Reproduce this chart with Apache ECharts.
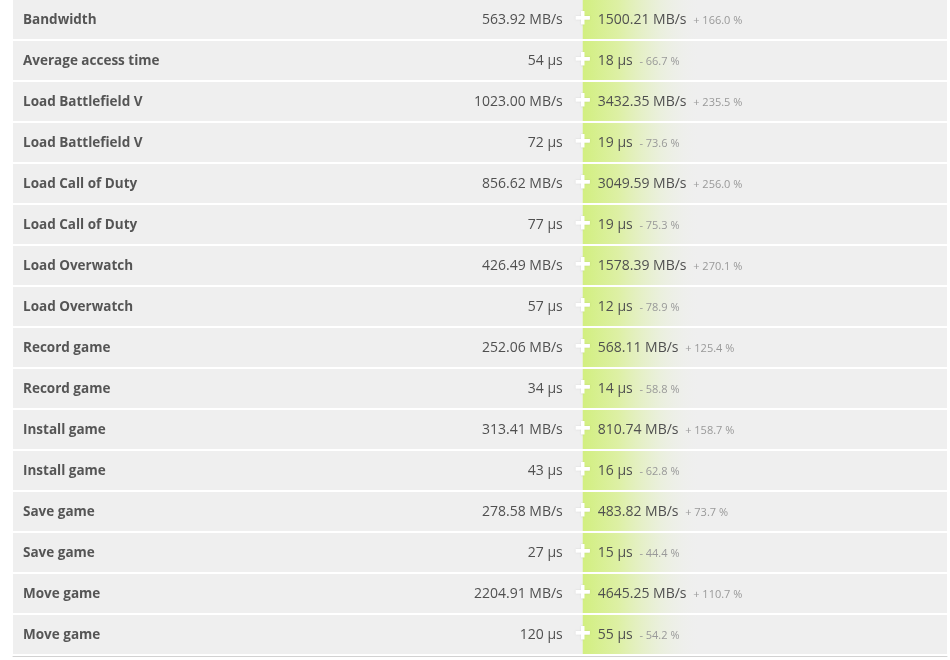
<!DOCTYPE html>
<html>
<head>
<meta charset="utf-8">
<script src="https://cdn.jsdelivr.net/npm/echarts@6/dist/echarts.min.js"></script>
<style>
html,body{margin:0;padding:0;background:#fff;}
#chart{width:950px;height:660px;}
</style>
</head>
<body>
<div id="chart"></div>
<script>
// ---- data ----
const categories = [
  'Bandwidth','Average access time','Load Battlefield V','Load Battlefield V',
  'Load Call of Duty','Load Call of Duty','Load Overwatch','Load Overwatch',
  'Record game','Record game','Install game','Install game',
  'Save game','Save game','Move game','Move game'
];
const units = ['MB/s','µs','MB/s','µs','MB/s','µs','MB/s','µs','MB/s','µs','MB/s','µs','MB/s','µs','MB/s','µs'];
const oldValues = ['563.92','54','1023.00','72','856.62','77','426.49','57','252.06','34','313.41','43','278.58','27','2204.91','120'];
const newValues = ['1500.21','18','3432.35','19','3049.59','19','1578.39','12','568.11','14','810.74','16','483.82','15','4645.25','55'];
const changes = ['+ 166.0 %','- 66.7 %','+ 235.5 %','- 73.6 %','+ 256.0 %','- 75.3 %','+ 270.1 %','- 78.9 %','+ 125.4 %','- 58.8 %','+ 158.7 %','- 62.8 %','+ 73.7 %','- 44.4 %','+ 110.7 %','- 54.2 %'];

// ---- layout / style constants ----
const SPLIT = 0.61;      // fraction of grid width where the new-value column starts
const GRAD_W = 118;      // width of the green fade
const FONT = '"Open Sans", "Noto Sans", sans-serif';

const chart = echarts.init(document.getElementById('chart'));
const rows = categories.map((c, i) => [i, c, oldValues[i], newValues[i], units[i], changes[i]]);

chart.setOption({
  backgroundColor: '#ffffff',
  animation: false,
  grid: { left: 13, right: 3, top: 0, height: 656 },
  xAxis: {
    type: 'value', min: 0, max: 1,
    axisLine: { show: true, onZero: false, lineStyle: { color: '#d2d2d2', width: 1 } },
    axisTick: { show: false }, axisLabel: { show: false }, splitLine: { show: false }
  },
  yAxis: {
    type: 'category', inverse: true,
    data: categories.map((c, i) => i),
    show: false
  },
  series: [{
    type: 'custom',
    data: rows,
    encode: { y: 0 },
    renderItem: function (params, api) {
      const idx = api.value(0);
      const cy = api.coord([0, idx])[1];
      const band = api.size([0, 1])[1];
      const cs = params.coordSys;
      const top = cy - band / 2;
      const h = band - 2;
      const midY = top + h / 2;
      const ty = midY + 1;
      const sx = cs.x + cs.width * SPLIT;
      const r = rows[params.dataIndex];
      return {
        type: 'group',
        children: [
          { type: 'rect', shape: { x: cs.x, y: top, width: cs.width, height: h },
            style: { fill: '#efefef' } },
          { type: 'rect', shape: { x: sx, y: top, width: GRAD_W, height: h },
            style: { fill: new echarts.graphic.LinearGradient(0, 0, 1, 0, [
              { offset: 0, color: 'rgba(210,239,128,1)' },
              { offset: 0.3, color: 'rgba(220,240,160,0.95)' },
              { offset: 0.65, color: 'rgba(232,240,212,0.7)' },
              { offset: 1, color: 'rgba(239,239,239,0)' }
            ]) } },
          { type: 'rect', shape: { x: sx - 7, y: midY - 3.5, width: 14, height: 3.5 },
            style: { fill: '#ffffff', shadowBlur: 1.5, shadowColor: 'rgba(0,0,0,0.15)' } },
          { type: 'rect', shape: { x: sx - 1.75, y: midY - 8.5, width: 3.5, height: 13.5 },
            style: { fill: '#ffffff', shadowBlur: 1.5, shadowColor: 'rgba(0,0,0,0.15)' } },
          { type: 'rect', shape: { x: sx - 7, y: midY - 3.5, width: 14, height: 3.5 },
            style: { fill: '#ffffff' } },
          { type: 'text', style: {
              x: cs.x + 10, y: ty, text: r[1], align: 'left', verticalAlign: 'middle',
              fill: '#555555', font: 'bold 13.5px ' + FONT } },
          { type: 'text', style: {
              x: sx - 20, y: ty, text: r[2] + ' ' + r[4], align: 'right', verticalAlign: 'middle',
              fill: '#505050', font: '14px ' + FONT } },
          { type: 'text', style: {
              x: sx + 15, y: ty, align: 'left', verticalAlign: 'middle',
              text: '{v|' + r[3] + ' ' + r[4] + '}  {p|' + r[5] + '}',
              rich: {
                v: { fontSize: 14, fontFamily: FONT, fill: '#505050' },
                p: { fontSize: 11, fontFamily: FONT, fill: '#999999' }
              } } }
        ]
      };
    }
  }]
});
</script>
</body>
</html>
